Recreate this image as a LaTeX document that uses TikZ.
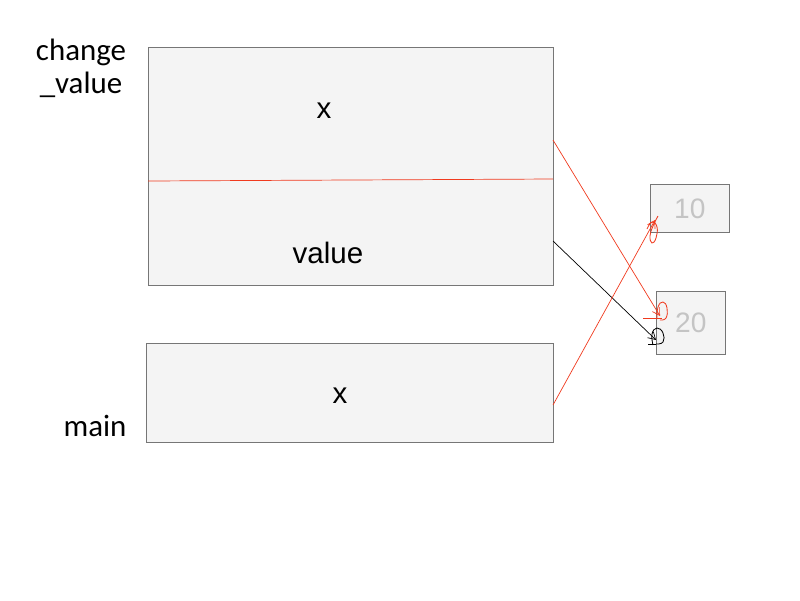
\documentclass[tikz,border=0pt]{standalone}
\usepackage{fontspec}
\setmainfont{Liberation Sans}
\newfontfamily\labelfont{Carlito}
\usetikzlibrary{arrows.meta}
\definecolor{boxfill}{HTML}{F4F4F4}
\definecolor{boxline}{HTML}{767676}
\definecolor{ptrred}{HTML}{F03A1E}
\definecolor{valgray}{HTML}{C4C4C4}
\begin{document}
\begin{tikzpicture}[x=0.025cm,y=-0.025cm,
  frame/.style={draw=boxline,fill=boxfill,line width=0.5pt},
  vartext/.style={font=\fontsize{21}{25}\selectfont,inner sep=0pt},
  fnlabel/.style={font=\labelfont\fontsize{22}{23.5}\selectfont,align=center,inner sep=0pt},
  valtext/.style={font=\fontsize{20}{24}\selectfont,text=valgray,inner sep=0pt},
  ptr/.style={line width=0.5pt,-{Straight Barb[length=5pt,width=6pt]}},
  scribble/.style={line width=0.6pt}]
\useasboundingbox (0,0) rectangle (800,600);
% stack frames
\draw[frame] (148,47) rectangle (553,285);
\draw[frame] (146,343) rectangle (553,442);
\draw[ptrred,line width=0.5pt] (148,181) -- (553,179);
% heap values
\node[frame,minimum width=79*0.025cm,minimum height=48*0.025cm,anchor=north west,inner sep=0pt] (ten) at (650,184) {};
\node[valtext] at (ten.center) {10};
\node[frame,minimum width=69*0.025cm,minimum height=63*0.025cm,anchor=north west,inner sep=0pt] (twenty) at (656,291) {};
\node[valtext] at (twenty.center) {20};
% variable names
\node[vartext] (cx) at (324,111) {x};
\node[vartext] (cval) at (328,253) {value};
\node[vartext] (mx) at (340,396) {x};
\node[fnlabel] (fchange) at (81,68) {change\\\_value};
\node[fnlabel] (fmain) at (95,426) {main};
% pointer endpoints
\coordinate (cxs) at (553,140);
\coordinate (cvals) at (553,241);
\coordinate (mxs) at (553,405);
\coordinate (toTwentyA) at (660,316);
\coordinate (toTwentyB) at (656,340);
\coordinate (toTen) at (655,220);
\draw[ptr,ptrred] (cxs) -- (toTwentyA);
\draw[ptr,black] (cvals) -- (toTwentyB);
\draw[ptr,ptrred] (mxs) -- (toTen);
% pen-drawn flourishes on the arrow tips
\draw[scribble,ptrred] plot[smooth,tension=0.8] coordinates {(647,229) (652,222) (657,227) (656,238) (652,243) (650,236) (653,226) (658,216)};
\draw[scribble,ptrred] plot[smooth,tension=0.8] coordinates {(657,319) (658,307) (663,302) (667,308) (666,318) (660,320)};
\draw[scribble,ptrred] (643,318) -- (662,318);
\draw[scribble,black] plot[smooth,tension=0.8] coordinates {(653,345) (652,334) (657,328) (663,333) (663,342) (656,344)};
\draw[scribble,black] (648,344) -- (656,344);
\end{tikzpicture}
\end{document}
